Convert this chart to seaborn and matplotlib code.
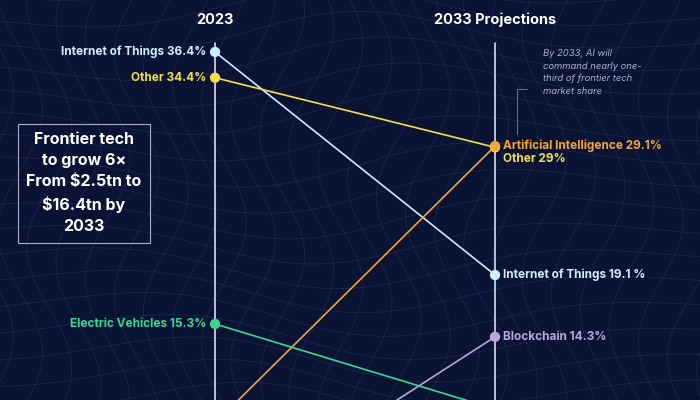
import numpy as np
import pandas as pd
import matplotlib.pyplot as plt
import seaborn as sns

# ---- data ----
techs = ["Internet of Things", "Other", "Artificial Intelligence", "Electric Vehicles", "Blockchain"]
share_2023 = [36.4, 34.4, 7.6, 15.3, 0.3]
share_2033 = [19.1, 29.0, 29.1, 8.7, 14.3]
colors = ["#cdeefc", "#f3e04e", "#f2a53c", "#39d98f", "#b8a6dd"]
left_labels = {"Internet of Things": "Internet of Things 36.4%", "Other": "Other 34.4%",
               "Electric Vehicles": "Electric Vehicles 15.3%"}
right_labels = {"Artificial Intelligence": "Artificial Intelligence 29.1%",
                "Internet of Things": "Internet of Things 19.1 %", "Blockchain": "Blockchain 14.3%"}

df = pd.DataFrame({"tech": techs * 2, "year": [0] * 5 + [1] * 5,
                   "share": share_2023 + share_2033})

sns.set_style("dark")
plt.rcParams["font.family"] = ["Inter", "DejaVu Sans"]
bg = "#0a1334"
fig = plt.figure(figsize=(7, 4), dpi=100, facecolor=bg)
ax = fig.add_axes([0, 0, 1, 1], facecolor=bg)
ax.set_xlim(-0.768, 1.732)
ax.set_ylim(9.4, 40.43)

# decorative warped mesh in the background
u = np.linspace(-0.8, 1.8, 300)
for k in np.linspace(5, 45, 22):
    ax.plot(u, k + 2.2 * np.sin(3 * u + k / 6) * np.exp(-((u - 0.4) ** 2)), color="#3a4680", lw=0.6, alpha=0.35, zorder=0)
v = np.linspace(5, 45, 300)
for k in np.linspace(-0.8, 1.8, 26):
    ax.plot(k + 0.08 * np.sin(v / 3 + k * 4), v, color="#3a4680", lw=0.6, alpha=0.35, zorder=0)

# vertical year axes
for x in (0, 1):
    ax.plot([x, x], [5, 37.1], color="#d8dcef", lw=1.2, zorder=1)
ax.text(0, 38.9, "2023", color="white", ha="center", va="center", fontsize=10.5, weight="bold")
ax.text(1, 38.9, "2033 Projections", color="white", ha="center", va="center", fontsize=10.5, weight="bold")

palette = dict(zip(techs, colors))
sns.lineplot(data=df, x="year", y="share", hue="tech", palette=palette, units="tech",
             estimator=None, lw=1.2, legend=False, ax=ax, zorder=2)
sns.scatterplot(data=df, x="year", y="share", hue="tech", palette=palette, s=55,
                edgecolor="none", legend=False, ax=ax, zorder=3)

for t, v0, v1, c in zip(techs, share_2023, share_2033, colors):
    if t in left_labels:
        ax.text(-0.03, v0, left_labels[t], color=c, ha="right", va="center", fontsize=8.5, weight="bold")
    if t in right_labels:
        ax.text(1.03, v1, right_labels[t], color=c, ha="left", va="center", fontsize=8.5, weight="bold")
ax.text(1.03, 28.1, "Other 29%", color=colors[1], ha="left", va="center", fontsize=8.5, weight="bold")

# text box
ax.text(-0.468, 26.2, "Frontier tech\nto grow 6×\nFrom $2.5tn to\n$16.4tn by\n2033", color="white",
        ha="center", va="center", fontsize=11.5, weight="bold", linespacing=1.5,
        bbox=dict(boxstyle="square,pad=0.55", fc="none", ec="#aab0c8", lw=0.8))

# annotation
ax.text(1.17, 36.6, "By 2033, AI will\ncommand nearly one-\nthird of frontier tech\nmarket share", color="#aab0c8",
        ha="left", va="top", fontsize=6.8, style="italic", linespacing=1.5)
ax.plot([1.08, 1.08, 1.115], [30.0, 33.5, 33.5], color="#6a7090", lw=0.7)

ax.set_axis_off()
fig.savefig("out.png", dpi=100, facecolor=bg)
